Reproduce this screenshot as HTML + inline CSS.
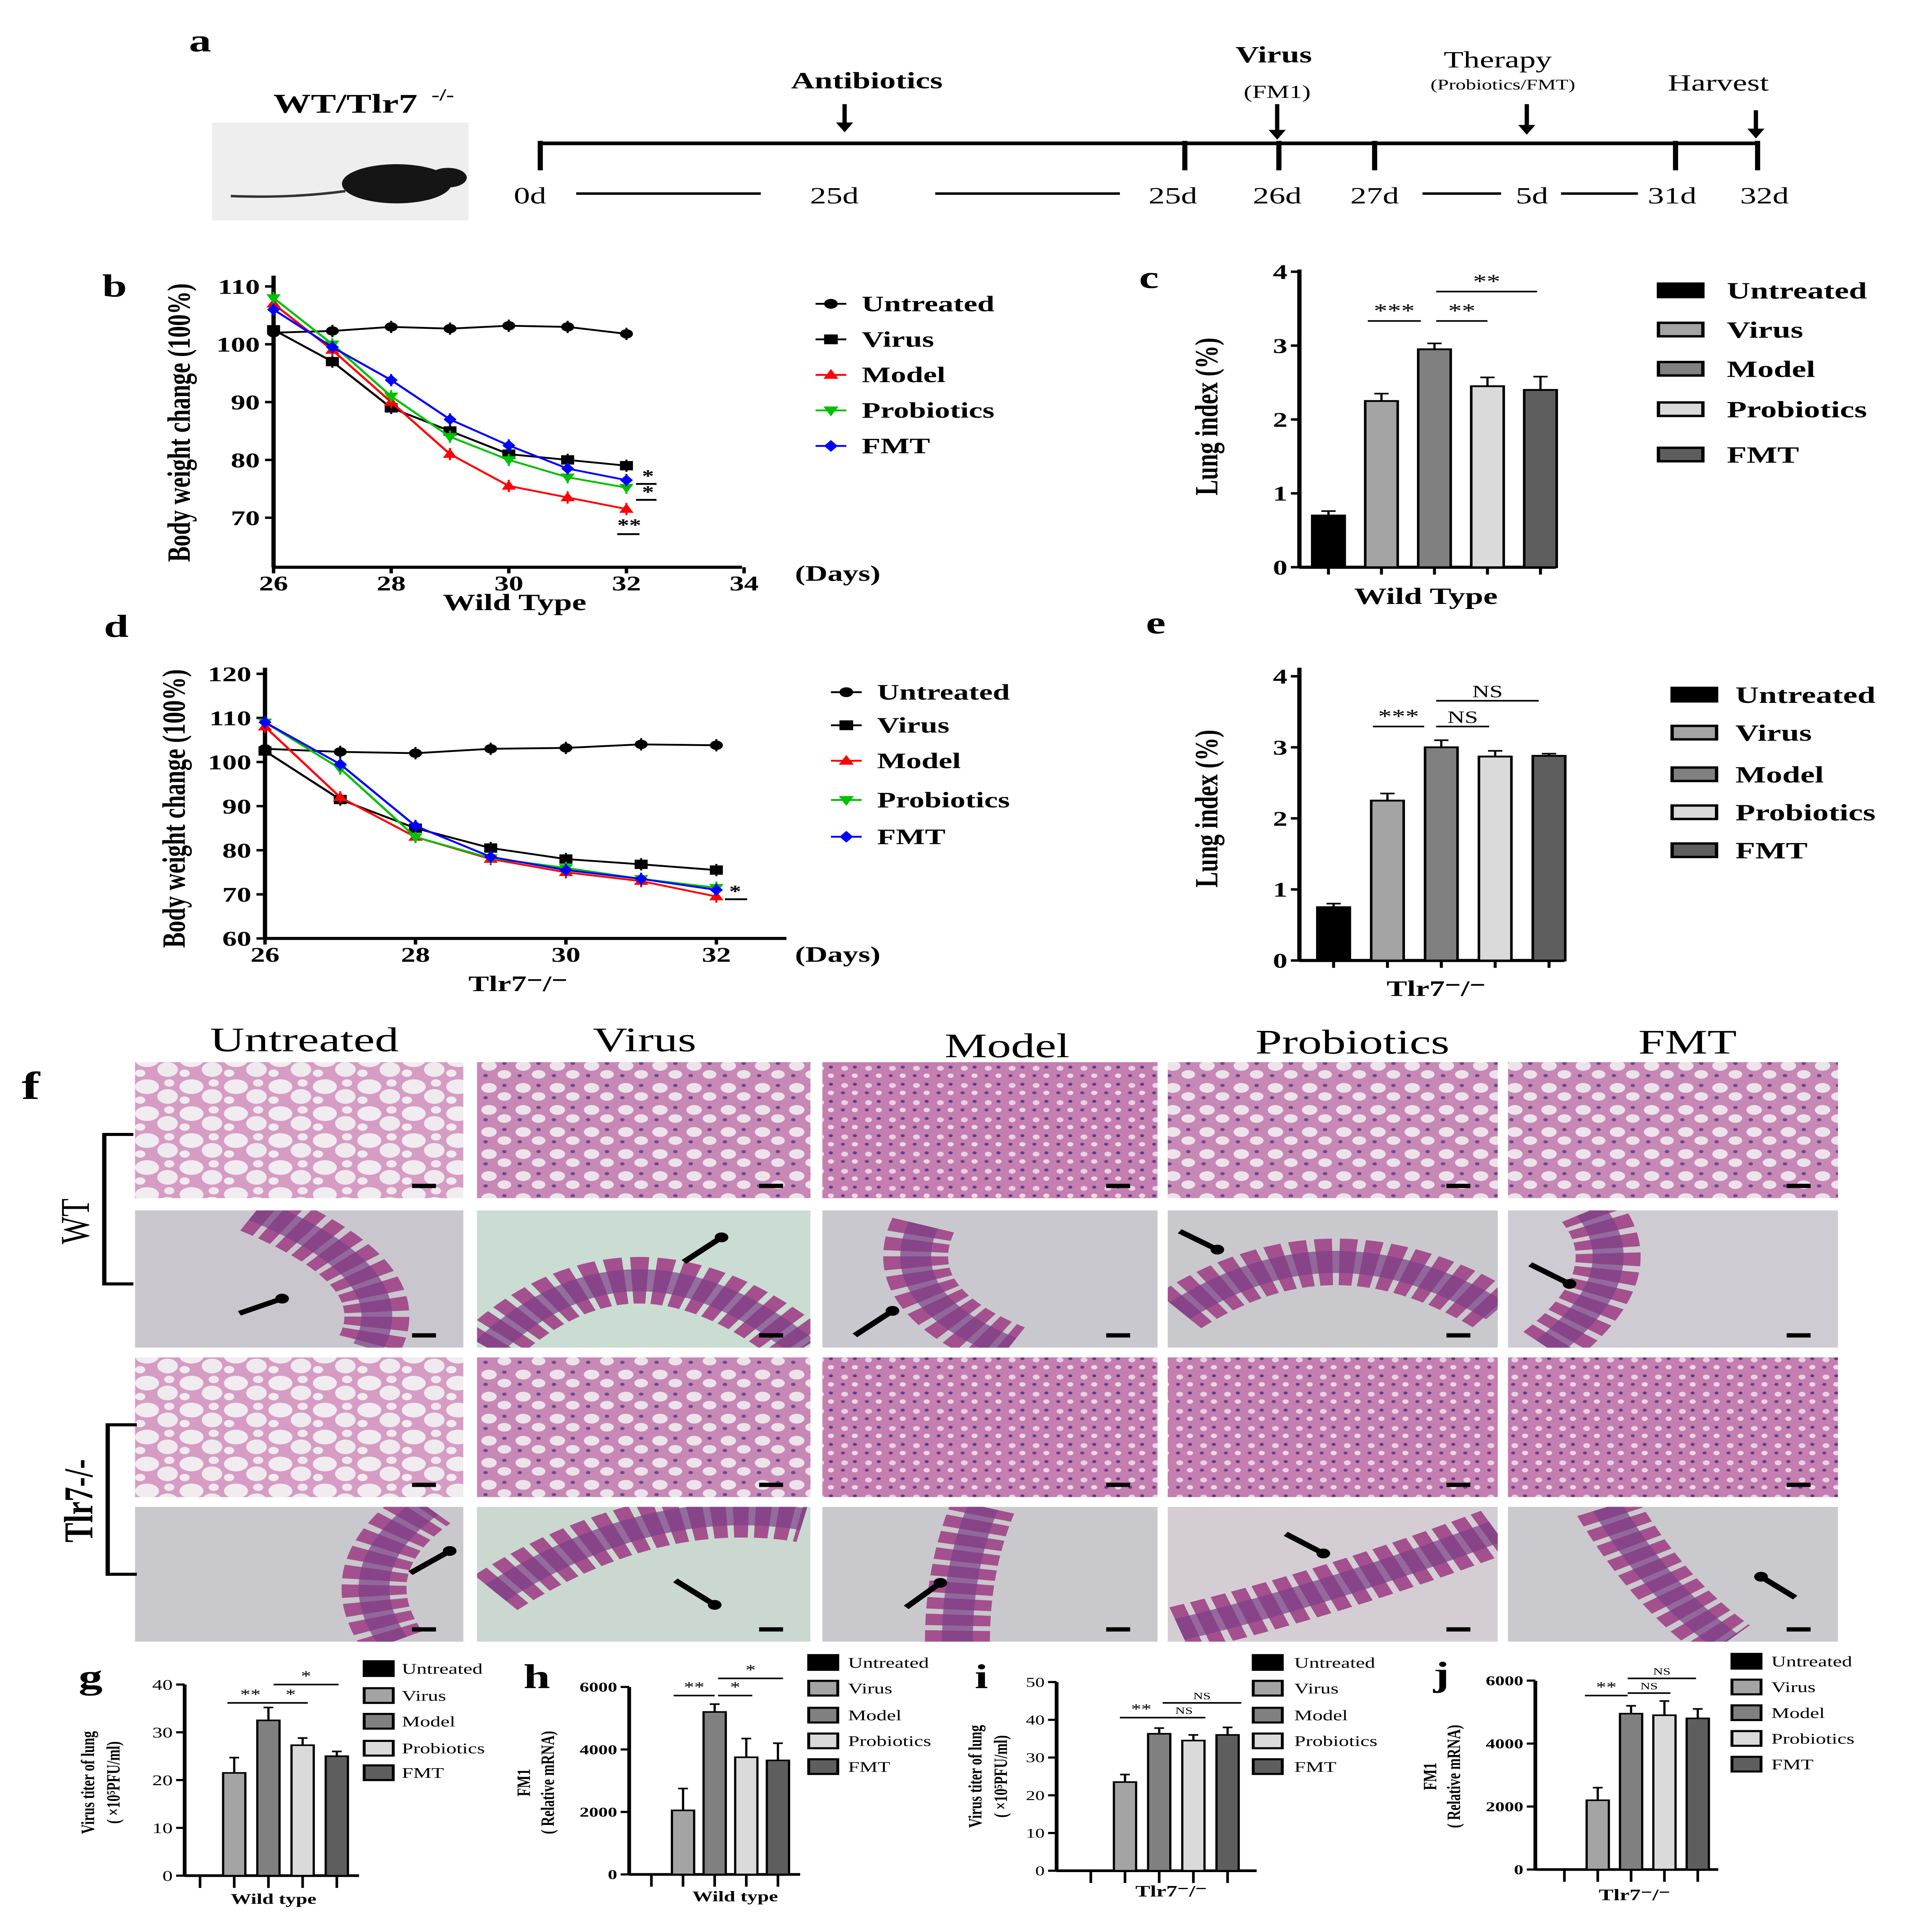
<!DOCTYPE html>
<html><head><meta charset="utf-8">
<style>
html,body{margin:0;padding:0;background:#fff;width:100vw;height:100vh;overflow:hidden;}
#fig{display:block;width:100vw;height:100vh;}
text{font-family:"Liberation Serif",serif;}
</style></head>
<body>
<svg id="fig" xmlns="http://www.w3.org/2000/svg" viewBox="0 0 1130 1577" preserveAspectRatio="none">
<defs>
<pattern id="lungSparse" width="26" height="22" patternUnits="userSpaceOnUse">
<rect width="26" height="22" fill="#d69cc4"/>
<ellipse cx="8" cy="7" rx="7" ry="6" fill="#f0ecef"/><ellipse cx="20" cy="15" rx="6" ry="6" fill="#eeeaee"/><ellipse cx="4" cy="18" rx="3" ry="3" fill="#f0ecef"/><ellipse cx="21" cy="4" rx="3" ry="3" fill="#efe9ee"/>
</pattern>
<pattern id="lungMid" width="20" height="18" patternUnits="userSpaceOnUse">
<rect width="20" height="18" fill="#c888b6"/>
<ellipse cx="6" cy="6" rx="4.5" ry="4" fill="#ece4ea"/><ellipse cx="15" cy="13" rx="4" ry="3.5" fill="#ebe3e9"/><circle cx="15" cy="4" r="1.3" fill="#6a4a90"/><circle cx="4" cy="14" r="1.3" fill="#6a4a90"/>
</pattern>
<pattern id="lungDense" width="14" height="14" patternUnits="userSpaceOnUse">
<rect width="14" height="14" fill="#c47eb0"/>
<circle cx="4" cy="4" r="2" fill="#e8d2e2"/><circle cx="10" cy="10" r="1.8" fill="#eed8e6"/><circle cx="10" cy="3" r="1.2" fill="#5c3d86"/><circle cx="3" cy="10" r="1.2" fill="#6a3f8a"/>
</pattern>
</defs>
<g id="root"></g>
</svg>
<script>
// ---- Panel b (WT body weight) ----
const bDays = [26,27,28,29,30,31,32];
const bUntreated = [102,102.3,103,102.7,103.2,103,101.8];
const bVirus = [102.5,97,89,85,81,80,79];
const bModel = [107,99,90,81,75.5,73.5,71.5];
const bProbiotics = [108,100,91,84,80,77,75.2];
const bFMT = [106,99.5,93.8,87,82.5,78.5,76.5];
const bXTicks = [26,28,30,32,34];
const bYTicks = [70,80,90,100,110];
// ---- Panel d (Tlr7 body weight) ----
const dDays = [26,27,28,29,30,31,32];
const dUntreated = [103,102.3,102,103,103.2,104,103.8];
const dVirus = [102.5,91.5,85,80.5,78,76.8,75.5];
const dModel = [108,92,83,78,75,73,69.5];
const dProbiotics = [109,98.5,83,78.2,76,73.5,71.5];
const dFMT = [109,99.5,85.5,78.5,75.5,73.5,71];
const dXTicks = [26,28,30,32];
const dYTicks = [60,70,80,90,100,110,120];
// ---- Bar panels ----
const groups = ["Untreated","Virus","Model","Probiotics","FMT"];
const cValues = [0.7,2.25,2.95,2.45,2.4];
const cErrors = [0.06,0.1,0.08,0.12,0.18];
const cYTicks = [0,1,2,3,4];
const eValues = [0.75,2.25,3.0,2.87,2.88];
const eErrors = [0.05,0.1,0.1,0.08,0.03];
const eYTicks = [0,1,2,3,4];
const gValues = [0,21.5,32.5,27.3,25];
const gErrors = [0,3.2,2.7,1.5,1.0];
const gYTicks = [0,10,20,30,40];
const hValues = [0,2050,5200,3750,3650];
const hErrors = [0,700,250,600,550];
const hYTicks = [0,2000,4000,6000];
const iValues = [0,23.5,36.3,34.5,36];
const iErrors = [0,2,1.5,1.5,2];
const iYTicks = [0,10,20,30,40,50];
const jValues = [0,2200,4950,4900,4800];
const jErrors = [0,400,250,450,300];
const jYTicks = [0,2000,4000,6000];

const NS='http://www.w3.org/2000/svg';
const root=document.getElementById('root');
function mk(tag,attrs,parent,txt){const e=document.createElementNS(NS,tag);for(const k in attrs)e.setAttribute(k,attrs[k]);if(txt!==undefined)e.textContent=txt;(parent||root).appendChild(e);return e;}
function grp(name,parent){const g=mk('g',{},parent);return g;}
function txt(g,x,y,s,size,opt){opt=opt||{};const t=mk('text',{x:x,y:y,'font-size':size,'font-weight':opt.w||'bold','text-anchor':opt.a||'middle',fill:'#000'},g,s);if(opt.rot)t.setAttribute('transform','rotate('+opt.rot+' '+x+' '+y+')');return t;}
function ln(g,x1,y1,x2,y2,w,c){return mk('line',{x1:x1,y1:y1,x2:x2,y2:y2,stroke:c||'#000','stroke-width':w||2},g);}

// ---- Panel a ----
(function(){
const g=grp('panel-a-timeline');
txt(g,117,42,'a',26,{name:'panel-label-a'});
const m=grp('mouse-photo',g);
mk('rect',{x:124,y:100,width:150,height:80,fill:'#eeeeee'},m);
mk('ellipse',{cx:232,cy:150,rx:32,ry:16,fill:'#151515'},m);
mk('ellipse',{cx:262,cy:145,rx:11,ry:8,fill:'#151515'},m);
mk('path',{d:'M202 156 Q170 162 135 160',stroke:'#333','stroke-width':2,fill:'none'},m);
txt(g,202,92,'WT/Tlr7',22,{name:'genotype-label'});
txt(g,259,82,'-/-',14,{a:'middle',name:'genotype-superscript'});
ln(g,316,117,1028,117,3);
[316,693,748,804,980,1028].forEach(x=>ln(g,x,115,x,139,3));
[[310,'0d'],[488,'25d'],[686,'25d'],[747,'26d'],[804,'27d'],[896,'5d'],[978,'31d'],[1032,'32d']].forEach(d=>txt(g,d[0],166,d[1],19,{w:'normal',name:'timeline-day'}));
[[337,445],[547,655],[832,878],[913,958]].forEach(d=>ln(g,d[0],158,d[1],158,2));
[[494,85,102],[747,85,108],[893,85,104],[1027,90,107]].forEach(a=>{ln(g,a[0],a[1],a[0],a[2],2.5);mk('path',{d:`M${a[0]-5} ${a[2]-2} L${a[0]+5} ${a[2]-2} L${a[0]} ${a[2]+6}Z`,fill:'#000'},g);});
txt(g,507,72,'Antibiotics',19,{name:'antibiotics-label'});
txt(g,745,51,'Virus',19,{name:'virus-label'});
txt(g,747,80,'(FM1)',15,{w:'normal',name:'fm1-label'});
txt(g,876,55,'Therapy',19,{w:'normal',name:'therapy-label'});
txt(g,879,73,'(Probiotics/FMT)',12,{w:'normal',name:'therapy-detail'});
txt(g,1005,74,'Harvest',19,{w:'normal',name:'harvest-label'});
})();

// ---- Line chart helper ----
const seriesStyle=[{n:'Untreated',c:'#000',m:'circle'},{n:'Virus',c:'#000',m:'square'},{n:'Model',c:'#ff0000',m:'tri'},{n:'Probiotics',c:'#00c000',m:'tridown'},{n:'FMT',c:'#0000ff',m:'diamond'}];
function marker(g,type,x,y,c,s){
 if(type==='circle')return mk('circle',{cx:x,cy:y,r:s,fill:c},g);
 if(type==='square')return mk('rect',{x:x-s,y:y-s,width:2*s,height:2*s,fill:c},g);
 if(type==='tri')return mk('path',{d:`M${x} ${y-s*1.2} L${x+s*1.1} ${y+s*0.8} L${x-s*1.1} ${y+s*0.8}Z`,fill:c},g);
 if(type==='tridown')return mk('path',{d:`M${x} ${y+s*1.2} L${x+s*1.1} ${y-s*0.8} L${x-s*1.1} ${y-s*0.8}Z`,fill:c},g);
 return mk('path',{d:`M${x} ${y-s*1.2} L${x+s} ${y} L${x} ${y+s*1.2} L${x-s} ${y}Z`,fill:c},g);
}
function lineChart(cfg){
 const g=grp(cfg.name);
 const X=v=>cfg.x0+(v-cfg.dx0)*cfg.xs, Y=v=>cfg.y0-(v-cfg.vy0)*cfg.ys;
 ln(g,cfg.x0,cfg.ytop,cfg.x0,cfg.yaxis,2.5);
 ln(g,cfg.x0,cfg.yaxis,cfg.xend,cfg.yaxis,2.5);
 cfg.yt.forEach(v=>{ln(g,cfg.x0-5,Y(v),cfg.x0,Y(v),2);txt(g,cfg.x0-8,Y(v)+6,String(v),17,{a:'end',name:'y-tick-label'});});
 cfg.xt.forEach(v=>{ln(g,X(v),cfg.yaxis,X(v),cfg.yaxis+5,2);txt(g,X(v),cfg.yaxis+19,String(v),17,{name:'x-tick-label'});});
 cfg.series.forEach((arr,si)=>{
  const st=seriesStyle[si];const sg=grp('series-'+st.n.toLowerCase(),g);
  const pts=cfg.days.map((d,i)=>X(d)+','+Y(arr[i])).join(' ');
  mk('polyline',{points:pts,fill:'none',stroke:st.c,'stroke-width':1.5},sg);
  cfg.days.forEach((d,i)=>{ln(sg,X(d),Y(arr[i])-5,X(d),Y(arr[i])+5,1.2,st.c);const p=marker(sg,st.m,X(d),Y(arr[i]),st.c,3.8);});
  const lg=grp('legend-entry-'+st.n.toLowerCase(),g);
  const ly=cfg.ly[si];
  ln(lg,cfg.lx-9,ly,cfg.lx+9,ly,1.5,st.c);marker(lg,st.m,cfg.lx,ly,st.c,4);
  txt(lg,cfg.lx+18,ly+6,st.n,18,{a:'start',name:'legend-label'});
 });
 return {g,X,Y};
}
// Panel b
(function(){
 const r=lineChart({name:'panel-b-chart',x0:160,dx0:26,xs:34.4,y0:281,vy0:100,ys:4.72,ytop:225,yaxis:463,xend:434,yt:bYTicks,xt:bXTicks,days:bDays,series:[bUntreated,bVirus,bModel,bProbiotics,bFMT],lx:486,ly:[248,277,306,335,364]});
 const g=r.g;
 txt(g,67,242,'b',26,{name:'panel-label-b'});
 txt(g,490,474,'(Days)',18,{name:'x-axis-unit'});
 txt(g,301,498,'Wild Type',19,{name:'x-axis-title'});
 txt(g,111,345,'Body weight change (100%)',19,{rot:-90,name:'y-axis-title'});
 txt(g,379,393,'*',14,{name:'sig-star'});ln(g,372,395,384,395,1.5);
 txt(g,379,406,'*',14,{name:'sig-star'});ln(g,372,408,384,408,1.5);
 txt(g,368,433,'**',14,{name:'sig-star'});ln(g,361,436,374,436,1.5);
})();
// Panel d
(function(){
 const r=lineChart({name:'panel-d-chart',x0:155,dx0:26,xs:44,y0:766,vy0:60,ys:3.6,ytop:545,yaxis:766,xend:460,yt:dYTicks,xt:dXTicks,days:dDays,series:[dUntreated,dVirus,dModel,dProbiotics,dFMT],lx:495,ly:[565,592,621,653,683]});
 const g=r.g;
 txt(g,68,520,'d',26,{name:'panel-label-d'});
 txt(g,490,785,'(Days)',18,{name:'x-axis-unit'});
 txt(g,303,809,'Tlr7⁻/⁻',18,{name:'x-axis-title'});
 txt(g,108,660,'Body weight change (100%)',19,{rot:-90,name:'y-axis-title'});
 txt(g,430,732,'*',14,{name:'sig-star'});ln(g,424,734,437,734,1.5);
})();

// ---- Bar chart helper ----
const barColors=['#000','#a4a4a4','#808080','#dadada','#5e5e5e'];
function barChart(cfg){
 const g=grp(cfg.name);
 const Y=v=>cfg.y0-v*cfg.ys;
 const X=i=>cfg.xc0+i*cfg.dx;
 ln(g,cfg.x0,cfg.ytop,cfg.x0,cfg.y0,cfg.aw);
 ln(g,cfg.x0,cfg.y0,cfg.xend,cfg.y0,cfg.aw);
 cfg.yt.forEach(v=>{ln(g,cfg.x0-5,Y(v),cfg.x0,Y(v),cfg.aw*0.8);txt(g,cfg.x0-7,Y(v)+cfg.fs*0.35,String(v),cfg.fs,{a:'end',w:cfg.tw||'bold',name:'y-tick-label'});});
 cfg.vals.forEach((v,i)=>{
  ln(g,X(i),cfg.y0,X(i),cfg.y0+cfg.tick,cfg.aw*0.7);
  if(v<=0 && i===0 && cfg.skipFirst)return;
  const bg=grp('bar-'+groups[i].toLowerCase(),g);
  const e=cfg.errs[i];
  ln(bg,X(i),Y(v),X(i),Y(v+e),1.3);ln(bg,X(i)-cfg.bw*0.22,Y(v+e),X(i)+cfg.bw*0.22,Y(v+e),1.3);
  mk('rect',{x:X(i)-cfg.bw/2,y:Y(v),width:cfg.bw,height:cfg.y0-Y(v),fill:barColors[i],stroke:'#000','stroke-width':cfg.bs},bg);
 });
 groups.forEach((n,i)=>{const lg=grp('legend-entry-'+n.toLowerCase(),g);
  mk('rect',{x:cfg.lx,y:cfg.ly[i]-cfg.lh/2,width:cfg.lw,height:cfg.lh,fill:barColors[i],stroke:'#000','stroke-width':cfg.bs*1.3},lg);
  txt(lg,cfg.ltx,cfg.ly[i]+cfg.lfs*0.35,n,cfg.lfs,{a:'start',w:cfg.lw2||'bold',name:'legend-label'});});
 (cfg.sig||[]).forEach(s=>{ln(g,s[1],s[2],s[3],s[2],1.3);txt(g,(s[1]+s[3])/2,s[2]-3,s[0],s[4]||13,{w:'normal',name:'significance-marker'});});
 return g;
}
// Panel c
(function(){const g=barChart({name:'panel-c-chart',x0:760,y0:463,ys:60.3,ytop:220,xend:910,aw:2.5,xc0:777,dx:31,bw:19,bs:1.5,vals:cValues,errs:cErrors,yt:cYTicks,fs:17,tick:6,lx:970,lw:26,lh:11,ly:[237,269,301,334,371],ltx:1010,lfs:19,
 sig:[['***',800,262,831,16],['**',840,262,870,16],['**',840,238,899,16]]});
 txt(g,672,235,'c',26,{name:'panel-label-c'});txt(g,834,493,'Wild Type',19,{name:'x-axis-title'});txt(g,712,340,'Lung index (%)',19,{rot:-90,name:'y-axis-title'});})();
// Panel e
(function(){const g=barChart({name:'panel-e-chart',x0:760,y0:784,ys:58,ytop:545,xend:915,aw:2.5,xc0:780,dx:31.5,bw:19,bs:1.5,vals:eValues,errs:eErrors,yt:eYTicks,fs:17,tick:6,lx:978,lw:26,lh:11,ly:[567,598,632,663,694],ltx:1015,lfs:19,
 sig:[['***',803,593,833,16],['NS',840,593,871,14],['NS',840,572,900,14]]});
 txt(g,676,517,'e',26,{name:'panel-label-e'});txt(g,840,813,'Tlr7⁻/⁻',18,{name:'x-axis-title'});txt(g,712,660,'Lung index (%)',19,{rot:-90,name:'y-axis-title'});})();
// Panel g
(function(){const g=barChart({name:'panel-g-chart',x0:108,y0:1531,ys:3.9,ytop:1375,xend:210,aw:2.2,xc0:117,dx:20,bw:13,bs:1.3,vals:gValues,errs:gErrors,yt:gYTicks,fs:12,tw:'normal',tick:10,lx:213,lw:17,lh:12,ly:[1362,1384,1405,1427,1447],ltx:235,lfs:12,lw2:'normal',skipFirst:true,
 sig:[['**',133,1390,160,12],['*',160,1390,180,12],['*',160,1375,198,12]]});
 txt(g,53,1378,'g',28,{name:'panel-label-g'});txt(g,160,1554,'Wild type',12,{name:'x-axis-title'});
 txt(g,55,1455,'Virus titer of lung',11,{rot:-90,name:'y-axis-title'});txt(g,70,1455,'( ×10⁵PFU/ml)',11,{rot:-90,name:'y-axis-unit'});})();
// Panel h
(function(){const g=barChart({name:'panel-h-chart',x0:368,y0:1530,ys:0.0255,ytop:1377,xend:468,aw:2.2,xc0:381,dx:18.5,bw:13,bs:1.3,vals:hValues,errs:hErrors,yt:hYTicks,fs:11,tick:10,lx:473,lw:17,lh:12,ly:[1357,1378,1400,1421,1442],ltx:496,lfs:12,lw2:'normal',skipFirst:true,
 sig:[['**',394,1384,418,12],['*',420,1384,440,12],['*',420,1370,458,12]]});
 txt(g,314,1378,'h',28,{name:'panel-label-h'});txt(g,430,1552,'Wild type',12,{name:'x-axis-title'});
 txt(g,310,1455,'FM1',11,{rot:-90,name:'y-axis-title'});txt(g,324,1455,'( Relative mRNA)',11,{rot:-90,name:'y-axis-unit'});})();
// Panel i
(function(){const g=barChart({name:'panel-i-chart',x0:618,y0:1527,ys:3.08,ytop:1373,xend:735,aw:2.2,xc0:638,dx:20,bw:13,bs:1.3,vals:iValues,errs:iErrors,yt:iYTicks,fs:11,tw:'normal',tick:10,lx:733,lw:17,lh:12,ly:[1357,1378,1400,1421,1442],ltx:757,lfs:12,lw2:'normal',skipFirst:true,
 sig:[['**',655,1402,680,12],['NS',680,1402,705,8],['NS',680,1390,726,8]]});
 txt(g,574,1378,'i',28,{name:'panel-label-i'});txt(g,685,1548,'Tlr7⁻/⁻',13,{name:'x-axis-title'});
 txt(g,574,1450,'Virus titer of lung',11,{rot:-90,name:'y-axis-title'});txt(g,589,1450,'( ×10⁵PFU/ml)',11,{rot:-90,name:'y-axis-unit'});})();
// Panel j
(function(){const g=barChart({name:'panel-j-chart',x0:898,y0:1526,ys:0.0257,ytop:1372,xend:1005,aw:2.2,xc0:915,dx:19.5,bw:13,bs:1.3,vals:jValues,errs:jErrors,yt:jYTicks,fs:11,tick:10,lx:1013,lw:17,lh:12,ly:[1356,1377,1398,1419,1440],ltx:1036,lfs:12,lw2:'normal',skipFirst:true,
 sig:[['**',927,1384,952,12],['NS',952,1382,977,8],['NS',952,1370,992,8]]});
 txt(g,843,1376,'j',28,{name:'panel-label-j'});txt(g,956,1551,'Tlr7⁻/⁻',13,{name:'x-axis-title'});
 txt(g,840,1450,'FM1',11,{rot:-90,name:'y-axis-title'});txt(g,854,1450,'( Relative mRNA)',11,{rot:-90,name:'y-axis-unit'});})();

// ---- Panel f histology ----
(function(){
 const g=grp('panel-f-histology');
 txt(g,18,897,'f',32,{name:'panel-label-f'});
 const cols=[[79,271],[279,474],[481,677],[683,876],[882,1075]];
 const heads=[[178,858,'Untreated'],[377,858,'Virus'],[589,863,'Model'],[791,860,'Probiotics'],[987,860,'FMT']];
 heads.forEach(h=>txt(g,h[0],h[1],h[2],28,{w:'normal',name:'column-header'}));
 const rows=[[867,978],[988,1100],[1108,1222],[1230,1340]];
 const lungFill=[['lungSparse','lungMid','lungDense','lungMid','lungMid'],['lungSparse','lungMid','lungDense','lungDense','lungDense']];
 const intBg=[['#c9c7cd','#cbdcd2','#c9c8ce','#c9c9cd','#cecbd2'],['#c9c8cc','#cbd8d0','#c9c8cd','#d4ced4','#cac9cd']];
 const intPath=[
  ['M150 988 Q240 1040 215 1100','M285 1100 Q370 990 470 1100','M540 1000 Q520 1060 590 1100','M690 1070 Q780 990 875 1070','M905 1100 Q960 1040 930 988'],
  ['M230 1340 Q200 1280 250 1230','M290 1300 Q380 1220 470 1240','M560 1340 Q560 1280 575 1230','M690 1330 Q780 1300 875 1250','M940 1230 Q970 1300 1010 1340']];
 const arrows=[[[140,1072,165,1060],[400,1030,422,1010],[500,1090,522,1070],[690,1005,712,1020],[895,1032,918,1048]],
  [[240,1284,263,1266],[395,1290,418,1310],[530,1312,550,1292],[752,1252,774,1268],[1050,1304,1030,1287]]];
 rows.forEach((r,ri)=>{cols.forEach((c,ci)=>{
  const ig=grp('histology-image',g);
  const isLung=ri%2===0, geno=ri<2?0:1;
  if(isLung){mk('rect',{x:c[0],y:r[0],width:c[1]-c[0],height:r[1]-r[0],fill:'url(#'+lungFill[geno][ci]+')'},ig);}
  else{
   mk('rect',{x:c[0],y:r[0],width:c[1]-c[0],height:r[1]-r[0],fill:intBg[geno][ci]},ig);
   const cp=mk('clipPath',{id:'cp'+ri+ci},ig);mk('rect',{x:c[0],y:r[0],width:c[1]-c[0],height:r[1]-r[0]},cp);
   const gg=mk('g',{'clip-path':'url(#cp'+ri+ci+')'},ig);
   const d=intPath[geno][ci];
   mk('path',{d:d,stroke:'#a4508e',fill:'none','stroke-width':38,'stroke-dasharray':'9 4'},gg);
   mk('path',{d:d,stroke:'#7a3f88',fill:'none','stroke-width':18,opacity:0.7},gg);
   const a=arrows[geno][ci];
   ln(ig,a[0],a[1],a[2],a[3],4);
   mk('circle',{cx:a[2],cy:a[3],r:4,fill:'#000'},ig);
  }
  ln(ig,c[1]-30,r[1]-10,c[1]-16,r[1]-10,3.5);
 });});
 const wt=grp('wt-bracket',g);
 mk('path',{d:'M78 926 L61 926 L61 1048 L78 1048',stroke:'#000','stroke-width':2.5,fill:'none'},wt);
 txt(wt,52,997,'WT',24,{rot:-90,w:'normal',name:'wt-label'});
 const tl=grp('tlr7-bracket',g);
 mk('path',{d:'M80 1163 L63 1163 L63 1285 L80 1285',stroke:'#000','stroke-width':2.5,fill:'none'},tl);
 txt(tl,54,1225,'Tlr7-/-',24,{rot:-90,name:'tlr7-label'});
})();
</script>
</body></html>
